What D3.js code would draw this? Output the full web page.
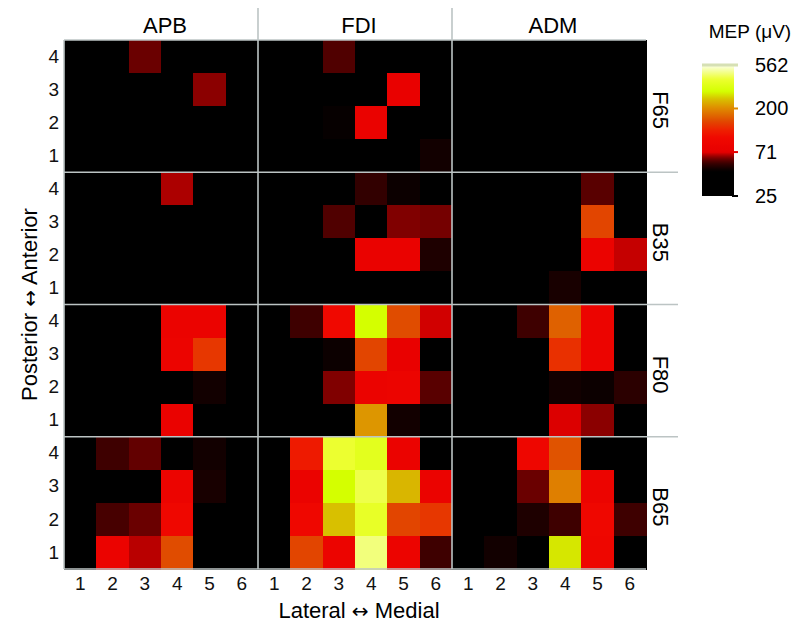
<!DOCTYPE html>
<html>
<head>
<meta charset="utf-8">
<script src="https://cdn.jsdelivr.net/npm/d3@7"></script>
<style>
  html, body { margin: 0; padding: 0; background: #fff; }
  svg { display: block; font-family: "Liberation Sans", Arial, sans-serif; }
</style>
</head>
<body>
<svg id="chart" width="810" height="638"></svg>
<script>
const muscles = ["APB", "FDI", "ADM"];
const conditions = ["F65", "B35", "F80", "B65"];
const lateral = [1, 2, 3, 4, 5, 6];
const anterior = [4, 3, 2, 1];
const legendTicks = [25, 71, 200, 562];

// MEP amplitude (µV); rows = anterior 4 (top) -> 1, columns = lateral 1 -> 6
const F65_APB = [
  [32, 34, 60, 36, 33, 31],
  [30, 33, 35, 38, 63, 34],
  [31, 32, 33, 35, 34, 32],
  [30, 31, 32, 34, 33, 31]];
const F65_FDI = [
  [31, 33, 57, 38, 35, 32],
  [30, 34, 38, 40, 74, 45],
  [31, 35, 46, 76, 42, 38],
  [30, 32, 36, 40, 42, 48]];
const F65_ADM = [
  [30, 31, 32, 34, 33, 31],
  [31, 32, 34, 36, 35, 32],
  [30, 33, 35, 44, 37, 33],
  [30, 31, 33, 35, 34, 32]];
const B35_APB = [
  [31, 33, 36, 66, 38, 34],
  [30, 32, 35, 40, 45, 44],
  [31, 33, 34, 38, 37, 35],
  [30, 31, 33, 35, 34, 32]];
const B35_FDI = [
  [32, 34, 40, 53, 47, 38],
  [31, 35, 57, 40, 62, 61],
  [30, 33, 39, 76, 76, 50],
  [30, 32, 35, 38, 37, 34]];
const B35_ADM = [
  [31, 33, 37, 40, 58, 38],
  [30, 34, 45, 41, 145, 44],
  [31, 33, 38, 43, 80, 68],
  [30, 32, 36, 49, 40, 35]];
const F80_APB = [
  [33, 35, 38, 80, 80, 40],
  [32, 34, 37, 85, 135, 39],
  [31, 33, 36, 40, 48, 37],
  [30, 32, 35, 78, 41, 36]];
const F80_FDI = [
  [35, 55, 100, 300, 150, 69],
  [33, 38, 47, 145, 75, 40],
  [32, 37, 62, 80, 85, 58],
  [31, 35, 40, 210, 48, 38]];
const F80_ADM = [
  [34, 37, 55, 165, 85, 40],
  [33, 36, 42, 130, 85, 39],
  [32, 35, 40, 48, 47, 52],
  [31, 34, 38, 70, 63, 37]];
const B65_APB = [
  [36, 55, 59, 42, 48, 40],
  [34, 40, 42, 85, 49, 39],
  [33, 56, 60, 95, 41, 44],
  [32, 80, 67, 150, 40, 38]];
const B65_FDI = [
  [38, 115, 400, 360, 80, 42],
  [36, 80, 300, 420, 240, 80],
  [35, 95, 250, 380, 145, 135],
  [34, 145, 85, 460, 85, 55]];
const B65_ADM = [
  [35, 38, 90, 155, 42, 37],
  [34, 40, 60, 190, 85, 39],
  [33, 44, 50, 55, 95, 55],
  [32, 48, 41, 280, 90, 38]];

const panels = {
  F65: [F65_APB, F65_FDI, F65_ADM],
  B35: [B35_APB, B35_FDI, B35_ADM],
  F80: [F80_APB, F80_FDI, F80_ADM],
  B65: [B65_APB, B65_FDI, B65_ADM]
};

// flat table of cells
const cells = [];
conditions.forEach(c => muscles.forEach((mu, mi) =>
  panels[c][mi].forEach((row, ri) => row.forEach((v, ci) =>
    cells.push({cond: c, muscle: mu, lat: lateral[ci], ant: anterior[ri], v})))));

// colour: black -> red -> orange -> yellow -> white on a log scale
const colStops = [25, 45, 50, 55, 60, 65, 71, 100, 120, 150, 180, 200, 250, 300, 400, 562];
const colRange = ["#000000", "#000000", "#1e0000", "#3e0000", "#6a0000", "#a00000", "#e80000",
  "#f00800", "#ee2000", "#e04c00", "#df7400", "#df8a00", "#d8c000", "#d4ff00", "#ecff30", "#fbffe8"];
const color = d3.scaleLog().domain(colStops).range(colRange).clamp(true);

const svg = d3.select("#chart");
const m = {left: 64, top: 40, right: 646, bottom: 569};
const grey = "#bcc4c4";

const fx = d3.scaleBand().domain(muscles).range([m.left, m.right]);
const fy = d3.scaleBand().domain(conditions).range([m.top, m.bottom]);
const x = d3.scaleBand().domain(lateral).range([0, fx.bandwidth()]);
const y = d3.scaleBand().domain(anterior).range([0, fy.bandwidth()]);

// cells
svg.append("g")
  .attr("shape-rendering", "crispEdges")
  .selectAll("rect")
  .data(cells)
  .join("rect")
  .attr("x", d => fx(d.muscle) + x(d.lat))
  .attr("y", d => fy(d.cond) + y(d.ant))
  .attr("width", x.bandwidth() + 0.6)
  .attr("height", y.bandwidth() + 0.6)
  .attr("fill", d => color(d.v));

// panel separators
const lines = svg.append("g").attr("stroke", grey).attr("stroke-width", 1.6);
muscles.slice(1).forEach(mu => {
  lines.append("line").attr("x1", fx(mu)).attr("x2", fx(mu)).attr("y1", 8).attr("y2", m.bottom);
});
conditions.slice(1).forEach(c => {
  lines.append("line").attr("x1", m.left).attr("x2", 678).attr("y1", fy(c)).attr("y2", fy(c));
});
lines.append("line").attr("x1", m.left).attr("x2", m.left).attr("y1", m.top).attr("y2", m.bottom);
lines.append("line").attr("x1", m.left).attr("x2", m.right).attr("y1", m.top).attr("y2", m.top);
lines.append("line").attr("x1", m.left).attr("x2", m.right).attr("y1", m.bottom).attr("y2", m.bottom);

// axes
conditions.forEach(c => {
  const g = svg.append("g")
    .attr("transform", `translate(${m.left - 1},${fy(c)})`)
    .call(d3.axisLeft(y).tickSize(0).tickPadding(4));
  g.select(".domain").remove();
  g.selectAll("text").attr("font-size", 19).attr("font-family", null).attr("fill", "#111");
});
muscles.forEach(mu => {
  const g = svg.append("g")
    .attr("transform", `translate(${fx(mu)},${m.bottom + 1})`)
    .call(d3.axisBottom(x).tickSize(0).tickPadding(7));
  g.select(".domain").remove();
  g.selectAll("text").attr("font-size", 19).attr("font-family", null).attr("fill", "#111");
});

// facet strip labels
svg.append("g").selectAll("text")
  .data(muscles)
  .join("text")
  .attr("x", d => fx(d) + fx.bandwidth() / 2 + 4)
  .attr("y", 33)
  .attr("text-anchor", "middle")
  .attr("font-size", 22)
  .text(d => d);
svg.append("g").selectAll("text")
  .data(conditions)
  .join("text")
  .attr("transform", d => `translate(653,${fy(d) + fy.bandwidth() / 2 + 4}) rotate(90)`)
  .attr("text-anchor", "middle")
  .attr("font-size", 22)
  .text(d => d);

// axis titles (arrow from DejaVu for a wider glyph)
function arrowTitle(sel, a, b) {
  sel.append("tspan").text(a + " ");
  sel.append("tspan").attr("font-family", "DejaVu Sans").attr("font-size", 20).text("\u2194");
  sel.append("tspan").text(" " + b);
}
svg.append("text")
  .attr("x", (m.left + m.right) / 2 + 4)
  .attr("y", 618)
  .attr("text-anchor", "middle")
  .attr("font-size", 22)
  .call(arrowTitle, "Lateral", "Medial");
svg.append("text")
  .attr("transform", `translate(37,${(m.top + m.bottom) / 2}) rotate(-90)`)
  .attr("text-anchor", "middle")
  .attr("font-size", 22)
  .call(arrowTitle, "Posterior", "Anterior");

// colour bar legend
const ly = d3.scaleLog().domain([25, 562]).range([196, 65]);
const lx = 702, lw = 32;
const grad = svg.append("defs").append("linearGradient")
  .attr("id", "mepGrad").attr("x1", 0).attr("x2", 0).attr("y1", 1).attr("y2", 0);
d3.range(0, 61).forEach(i => {
  const v = ly.invert(196 - i / 60 * 131);
  grad.append("stop").attr("offset", i / 60).attr("stop-color", color(v));
});
svg.append("rect")
  .attr("x", lx).attr("y", ly(562)).attr("width", lw).attr("height", ly(25) - ly(562))
  .attr("fill", "url(#mepGrad)");
svg.append("g").selectAll("line")
  .data(legendTicks)
  .join("line")
  .attr("x1", d => d === 562 ? lx : lx + lw - 2)
  .attr("x2", lx + lw + 4)
  .attr("y1", d => ly(d)).attr("y2", d => ly(d))
  .attr("stroke", d => d === 562 ? "#d6e0b4" : color(d))
  .attr("stroke-width", d => d === 562 ? 3 : 2);
svg.append("g").selectAll("text")
  .data(legendTicks)
  .join("text")
  .attr("x", 755)
  .attr("y", d => ly(d) + 7)
  .attr("font-size", 20)
  .text(d => d);
svg.append("text")
  .attr("x", 750).attr("y", 38)
  .attr("text-anchor", "middle")
  .attr("font-size", 19)
  .text("MEP (\u03bcV)");
</script>
</body>
</html>
